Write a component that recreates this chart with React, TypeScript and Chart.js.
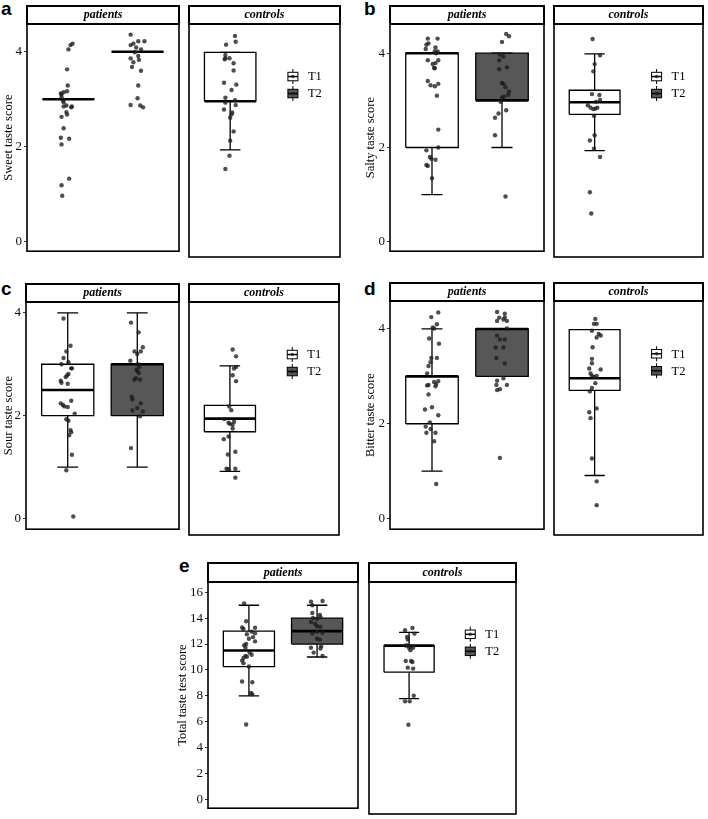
import React, { useEffect, useRef } from "react";
import { Chart, registerables } from "chart.js";

Chart.register(...registerables);

// ---------------- data ----------------
const TIMEPOINTS = ["T1", "T2"];
const GROUPS = ["patients", "controls"];
const PANEL_LETTERS = ["a", "b", "c", "d", "e"];
const Y_TITLES = [
  "Sweet taste score",
  "Salty taste score",
  "Sour taste score",
  "Bitter taste score",
  "Total taste test score",
];
const SCORE_TICKS = [0, 2, 4];
const TOTAL_TICKS = [0, 2, 4, 6, 8, 10, 12, 14, 16];

// boxplot summaries: [lower whisker, Q1, median, Q3, upper whisker]
const sweetBoxPatT1 = [3, 3, 3, 3, 3];
const sweetBoxPatT2 = [4, 4, 4, 4, 4];
const sweetBoxCtlT1 = [2, 3, 3, 4, 4];
const saltyBoxPatT1 = [1, 2, 4, 4, 4];
const saltyBoxPatT2 = [2, 3, 3, 4, 4];
const saltyBoxCtlT1 = [2, 2.75, 3, 3.25, 4];
const sourBoxPatT1 = [1, 2, 2.5, 3, 4];
const sourBoxPatT2 = [1, 2, 3, 3, 4];
const sourBoxCtlT1 = [1, 1.75, 2, 2.25, 3];
const bitterBoxPatT1 = [1, 2, 3, 3, 4];
const bitterBoxPatT2 = [3, 3, 4, 4, 4];
const bitterBoxCtlT1 = [1, 2.75, 3, 4, 4];
const totalBoxPatT1 = [8, 10.25, 11.5, 13, 15];
const totalBoxPatT2 = [11, 12, 13, 14, 15];
const totalBoxCtlT1 = [8, 10, 12, 12, 13];

// jittered observations: [x (T1 = 1, T2 = 2, with jitter), plotted score]
const sweetPatT1 = [[1.06,4.17],[1.03,4.14],[1.0,4.05],[0.98,3.63],[0.99,3.29],[0.98,3.17],[0.93,3.15],[0.90,3.10],[0.89,3.12],[0.90,3.04],[0.92,2.98],[0.93,2.94],[0.97,2.87],[0.93,2.85],[1.05,2.85],[1.04,2.83],[0.97,2.73],[0.98,2.68],[0.90,2.63],[0.93,2.39],[0.89,2.19],[1.01,2.17],[0.90,2.05],[1.01,1.33],[0.90,1.19],[0.91,0.97]];
const sweetPatT2 = [[1.90,4.36],[2.01,4.22],[2.10,4.22],[1.94,4.17],[1.90,4.14],[1.98,4.09],[2.05,4.05],[1.96,3.99],[1.90,3.86],[2.01,3.91],[2.02,3.83],[1.94,3.78],[1.92,3.68],[2.05,3.60],[2.01,3.29],[2.0,3.02],[1.90,2.88],[2.04,2.87],[2.08,2.83]];
const sweetCtlT1 = [[1.07,4.34],[1.08,4.22],[0.94,4.16],[0.93,3.95],[0.92,3.86],[0.93,3.88],[0.99,3.88],[1.05,3.78],[1.05,3.63],[0.91,3.38],[1.09,3.34],[1.02,3.23],[0.93,3.07],[0.93,2.97],[1.07,3.02],[0.91,2.83],[1.08,2.92],[1.03,2.77],[1.0,2.66],[1.02,2.73],[1.05,2.38],[1.0,2.19],[0.99,1.88],[0.93,1.61]];
const saltyPatT1 = [[0.94,4.31],[1.08,4.31],[0.95,4.21],[0.92,4.18],[1.05,4.12],[0.91,4.09],[1.04,4.04],[1.08,4.04],[1.06,4.0],[0.94,3.85],[1.09,3.85],[1.05,3.79],[1.01,3.77],[1.03,3.69],[1.04,3.68],[0.94,3.41],[0.98,3.32],[1.04,3.30],[1.09,3.35],[1.07,3.10],[1.09,2.38],[1.09,2.0],[0.92,1.94],[0.97,1.80],[0.99,1.76],[1.05,1.74],[0.92,1.63],[0.94,1.61],[1.0,1.35]];
const saltyPatT2 = [[2.06,4.41],[2.10,4.36],[2.0,4.24],[1.97,3.97],[2.02,3.93],[1.96,3.85],[2.07,3.70],[1.96,3.66],[2.0,3.37],[2.02,3.35],[2.05,3.28],[2.10,3.19],[2.09,3.12],[2.03,3.08],[2.0,3.06],[1.98,2.97],[2.06,2.79],[1.95,2.72],[1.90,2.63],[1.90,2.26],[2.05,0.96]];
const saltyCtlT1 = [[0.97,4.31],[1.08,3.97],[1.0,3.79],[0.98,3.64],[0.96,3.17],[1.07,3.15],[1.08,3.05],[1.02,3.01],[0.90,2.94],[0.94,2.89],[0.98,2.86],[1.01,2.87],[1.04,2.89],[0.99,2.72],[1.0,2.32],[0.93,2.21],[0.99,2.04],[1.08,1.87],[0.93,1.14],[0.95,0.70]];
const sourPatT1 = [[0.94,3.89],[1.04,3.36],[0.98,3.25],[0.94,3.12],[1.01,3.04],[0.91,3.0],[1.05,2.92],[1.06,2.92],[1.01,2.81],[0.99,2.78],[0.97,2.75],[0.90,2.68],[0.91,2.64],[1.0,2.62],[0.90,2.24],[0.93,2.21],[0.95,2.18],[1.05,2.29],[1.0,2.17],[1.10,2.04],[0.98,1.93],[1.01,1.90],[1.04,1.72],[1.05,1.68],[1.02,1.62],[1.06,1.24],[0.98,0.94],[1.08,0.04]];
const sourPatT2 = [[1.91,3.81],[2.02,3.62],[2.08,3.33],[1.96,3.25],[2.05,3.25],[2.0,3.20],[1.90,3.07],[2.01,3.0],[2.03,2.95],[1.99,2.90],[2.0,2.87],[2.02,2.83],[1.98,2.73],[1.96,2.70],[2.04,2.70],[1.92,2.37],[1.93,2.32],[2.05,2.24],[2.0,2.15],[1.93,2.10],[2.08,2.08],[2.04,1.99],[1.91,1.37]];
const sourCtlT1 = [[1.04,3.31],[1.09,3.18],[1.09,2.98],[1.06,2.95],[1.04,2.82],[1.09,2.71],[0.99,2.23],[1.02,2.16],[0.92,1.99],[0.98,1.92],[1.0,1.90],[1.06,1.94],[1.04,1.88],[1.04,1.81],[0.98,1.66],[0.91,1.61],[0.97,1.32],[1.08,1.37],[0.95,1.05],[0.98,1.04],[1.08,1.05],[1.08,0.88]];
const bitterPatT1 = [[1.09,4.35],[0.99,4.25],[1.07,4.10],[1.01,4.03],[1.03,4.01],[0.96,3.80],[1.10,3.69],[0.99,3.39],[1.07,3.39],[0.98,3.30],[0.95,3.22],[0.93,3.06],[1.03,2.88],[1.09,2.90],[1.06,2.84],[0.93,2.81],[0.95,2.82],[1.05,2.79],[0.95,2.62],[1.0,2.35],[0.90,2.30],[1.09,2.18],[0.97,2.03],[0.91,1.94],[0.98,1.89],[0.92,1.81],[1.05,1.81],[1.03,1.63],[1.06,0.73]];
const bitterPatT2 = [[1.93,4.36],[2.04,4.32],[1.96,4.24],[2.04,4.24],[2.02,4.20],[1.93,4.17],[2.07,4.17],[2.07,4.01],[1.93,3.86],[1.97,3.78],[2.04,3.78],[1.91,3.61],[2.02,3.61],[1.92,3.39],[2.04,3.27],[2.02,2.96],[1.93,2.91],[1.92,2.82],[2.07,2.82],[1.93,2.71],[1.97,2.73],[1.97,1.28]];
const bitterCtlT1 = [[1.01,4.22],[0.99,4.12],[1.03,4.12],[0.96,3.98],[1.06,3.91],[1.09,3.88],[1.03,3.84],[0.97,3.64],[0.96,3.40],[0.96,3.31],[0.92,3.20],[1.09,3.18],[0.94,3.10],[0.96,3.05],[0.99,3.03],[1.03,3.05],[1.01,2.90],[0.96,2.80],[0.93,2.73],[1.03,2.38],[0.92,2.30],[0.94,2.18],[0.96,1.35],[1.03,0.88],[1.03,0.39]];
const totalPatT1 = [[0.93,15.15],[0.96,13.76],[0.90,13.28],[0.92,13.16],[1.09,13.26],[1.04,12.96],[0.97,12.76],[1.09,12.83],[1.06,12.54],[1.0,12.41],[1.09,12.21],[0.96,12.01],[0.93,11.91],[0.95,11.71],[1.01,11.34],[0.95,11.09],[1.04,11.17],[0.92,10.92],[0.97,11.02],[0.90,10.72],[0.92,10.52],[1.0,10.27],[0.90,9.10],[1.05,9.05],[1.03,8.22],[1.05,8.12],[0.96,5.78]];
const totalPatT2 = [[1.91,15.28],[2.08,15.33],[1.93,15.0],[1.93,14.40],[2.04,14.26],[2.05,14.08],[1.94,14.01],[2.0,13.96],[1.91,13.71],[1.97,13.58],[2.0,13.38],[2.05,13.33],[1.93,12.83],[2.0,12.96],[2.08,12.88],[2.04,12.34],[2.0,12.41],[2.06,11.84],[1.91,11.71],[2.05,11.66],[2.08,11.09],[1.95,11.34]];
const totalCtlT1 = [[0.94,13.16],[1.05,13.33],[1.08,12.91],[0.97,12.66],[0.98,12.46],[0.95,12.01],[1.0,11.84],[1.03,11.96],[0.98,12.01],[1.06,11.84],[1.02,11.66],[0.95,10.84],[1.03,10.84],[1.05,10.77],[0.98,10.34],[1.06,10.27],[1.07,8.22],[0.94,7.80],[1.01,7.80],[0.99,6.03]];

// per panel: facet -> list of [timepoint index, box summary, observations]
const PANEL_DATA = [
  [[[0, sweetBoxPatT1, sweetPatT1], [1, sweetBoxPatT2, sweetPatT2]], [[0, sweetBoxCtlT1, sweetCtlT1]]],
  [[[0, saltyBoxPatT1, saltyPatT1], [1, saltyBoxPatT2, saltyPatT2]], [[0, saltyBoxCtlT1, saltyCtlT1]]],
  [[[0, sourBoxPatT1, sourPatT1], [1, sourBoxPatT2, sourPatT2]], [[0, sourBoxCtlT1, sourCtlT1]]],
  [[[0, bitterBoxPatT1, bitterPatT1], [1, bitterBoxPatT2, bitterPatT2]], [[0, bitterBoxCtlT1, bitterCtlT1]]],
  [[[0, totalBoxPatT1, totalPatT1], [1, totalBoxPatT2, totalPatT2]], [[0, totalBoxCtlT1, totalCtlT1]]],
];
const PANEL_TICKS = [SCORE_TICKS, SCORE_TICKS, SCORE_TICKS, SCORE_TICKS, TOTAL_TICKS];

// ---------------- layout & style ----------------
const PANEL_GEOM = [
  { S: 6, T: 24, B: 259, facets: [[27, 181], [187, 342]], axisW: 27, yMin: -0.197, yMax: 4.584, letter: [1, -1] },
  { S: 6, T: 24, B: 259, facets: [[390, 546], [552, 705]], axisW: 28, yMin: -0.2, yMax: 4.62, letter: [364, -1] },
  { S: 284, T: 302, B: 537, facets: [[26, 181], [187, 341]], axisW: 26, yMin: -0.207, yMax: 4.21, letter: [1, 279] },
  { S: 283, T: 301, B: 537, facets: [[390, 546], [552, 705]], axisW: 28, yMin: -0.224, yMax: 4.59, letter: [364, 279] },
  { S: 563, T: 582, B: 816, facets: [[208, 360], [367, 518]], axisW: 34, yMin: -0.695, yMax: 16.8, letter: [179, 556] },
];

const SERIF = "'Liberation Serif', 'Times New Roman', serif";
const BOX_FILLS = ["#ffffff", "#575757"];
const POINT_COLOR = "rgba(28,28,28,0.78)";
const BOX_HALF = 0.375;
const CAP_HALF = 0.15;

function boxDatasets(t: number, stats: number[], pts: number[][]) {
  const c = t + 1;
  const [lo, q1, med, q3, hi] = stats;
  return [
    {
      type: "scatter",
      data: pts.map(([x, y]) => ({ x, y })),
      pointRadius: 2.2,
      pointBackgroundColor: POINT_COLOR,
      pointBorderWidth: 0,
      order: 0,
    },
    {
      type: "line",
      data: [{ x: c - BOX_HALF, y: med }, { x: c + BOX_HALF, y: med }],
      borderColor: "#000",
      borderWidth: 2.6,
      borderCapStyle: "butt",
      pointRadius: 0,
      fill: false,
      order: 1,
    },
    {
      type: "line",
      data: [
        { x: c - BOX_HALF, y: q1 },
        { x: c + BOX_HALF, y: q1 },
        { x: c + BOX_HALF, y: q3 },
        { x: c - BOX_HALF, y: q3 },
        { x: c - BOX_HALF, y: q1 },
      ],
      borderColor: "#000",
      borderWidth: 1.3,
      backgroundColor: BOX_FILLS[t],
      fill: "shape",
      pointRadius: 0,
      order: 2,
    },
    {
      type: "line",
      data: [
        { x: c - CAP_HALF, y: lo }, { x: c + CAP_HALF, y: lo }, { x: c, y: null },
        { x: c, y: lo }, { x: c, y: hi }, { x: c, y: null },
        { x: c - CAP_HALF, y: hi }, { x: c + CAP_HALF, y: hi },
      ],
      borderColor: "#000",
      borderWidth: 1.3,
      spanGaps: false,
      pointRadius: 0,
      fill: false,
      order: 3,
    },
  ];
}

function makeFramePlugin(label: string, stripH: number, showLegend: boolean) {
  return {
    id: "facetFrame",
    afterDraw(chart: any) {
      const { ctx, chartArea: a } = chart;
      const w = a.right - a.left;
      const h = a.bottom - a.top;
      ctx.save();
      // panel border
      ctx.strokeStyle = "#000";
      ctx.lineWidth = 1.6;
      ctx.strokeRect(a.left, a.top, w, h);
      // strip
      ctx.fillStyle = "#fff";
      ctx.fillRect(a.left, a.top - stripH, w, stripH);
      ctx.lineWidth = 2;
      ctx.strokeRect(a.left, a.top - stripH, w, stripH);
      ctx.fillStyle = "#000";
      ctx.font = `italic bold 12px ${SERIF}`;
      ctx.textAlign = "center";
      ctx.textBaseline = "middle";
      ctx.fillText(label, a.left + w / 2, a.top - stripH / 2);
      // legend inside the controls facet
      if (showLegend) {
        const x0 = a.left + 0.655 * w;
        const y0 = a.top + 0.2255 * h;
        TIMEPOINTS.forEach((lab, i) => {
          const cy = y0 + i * 17;
          const bw = 10;
          const bh = 8.5;
          ctx.strokeStyle = "#000";
          ctx.lineWidth = 1;
          ctx.beginPath();
          ctx.moveTo(x0 + bw / 2, cy - 7.5);
          ctx.lineTo(x0 + bw / 2, cy + 7.5);
          ctx.stroke();
          ctx.fillStyle = BOX_FILLS[i];
          ctx.fillRect(x0, cy - bh / 2, bw, bh);
          ctx.strokeRect(x0, cy - bh / 2, bw, bh);
          ctx.lineWidth = 1.5;
          ctx.beginPath();
          ctx.moveTo(x0, cy);
          ctx.lineTo(x0 + bw, cy);
          ctx.stroke();
          ctx.fillStyle = POINT_COLOR;
          ctx.beginPath();
          ctx.arc(x0 + bw / 2, cy, 1.8, 0, Math.PI * 2);
          ctx.fill();
          ctx.fillStyle = "#000";
          ctx.font = `12.5px ${SERIF}`;
          ctx.textAlign = "left";
          ctx.textBaseline = "middle";
          ctx.fillText(lab, x0 + 20, cy + 0.5);
        });
      }
      ctx.restore();
    },
  };
}

function Facet({ panel, facet }: { panel: number; facet: number }) {
  const ref = useRef<HTMLCanvasElement>(null);
  const g = PANEL_GEOM[panel];
  const [L, R] = g.facets[facet];
  const isLeft = facet === 0;
  const axisW = isLeft ? g.axisW : 2;
  const left = L - axisW;
  const top = g.S - 2;
  const width = R - L + axisW + 2;
  const height = g.B - g.S + 4;

  useEffect(() => {
    const boxes = PANEL_DATA[panel][facet] as any[];
    const datasets: any[] = [];
    boxes.forEach(([t, stats, pts]) => datasets.push(...boxDatasets(t, stats, pts)));
    const ticks = PANEL_TICKS[panel];
    const chart = new Chart(ref.current as HTMLCanvasElement, {
      type: "scatter",
      data: { datasets },
      options: {
        animation: false,
        responsive: false,
        maintainAspectRatio: false,
        devicePixelRatio: window.devicePixelRatio || 1,
        layout: {
          padding: { top: g.T - g.S + 2, bottom: 2, right: 2, left: isLeft ? 0 : 2 },
        },
        plugins: { legend: { display: false }, tooltip: { enabled: false } },
        scales: {
          x: { type: "linear", min: 0.4, max: 2.6, display: false },
          y: {
            type: "linear",
            min: g.yMin,
            max: g.yMax,
            display: isLeft,
            afterBuildTicks: (s: any) => {
              s.ticks = ticks.map((v) => ({ value: v }));
            },
            afterFit: (s: any) => {
              s.width = axisW;
            },
            grid: {
              display: true,
              drawOnChartArea: false,
              drawTicks: true,
              tickLength: 3,
              color: "#333",
              lineWidth: 1,
            },
            border: { display: false },
            ticks: { font: { family: SERIF, size: 13 }, color: "#111", padding: 2 },
            title: {
              display: true,
              text: Y_TITLES[panel],
              font: { family: SERIF, size: 12.5 },
              color: "#000",
              padding: { top: 1.5, bottom: 0 },
            },
          },
        },
      } as any,
      plugins: [makeFramePlugin(GROUPS[facet], g.T - g.S, facet === 1)],
    } as any);
    return () => chart.destroy();
  }, [panel, facet]);

  return (
    <div style={{ position: "absolute", left, top, width, height }}>
      <canvas ref={ref} width={width} height={height} style={{ width, height, display: "block" }} />
    </div>
  );
}

export default function App() {
  return (
    <div
      style={{
        position: "absolute",
        left: 0,
        top: 0,
        width: 708,
        height: 819,
        background: "#fff",
        overflow: "hidden",
      }}
    >
      {PANEL_GEOM.map((g, p) => (
        <React.Fragment key={p}>
          <div
            style={{
              position: "absolute",
              left: g.letter[0],
              top: g.letter[1],
              font: "bold 19px 'Liberation Sans', Arial, sans-serif",
              lineHeight: "19px",
              color: "#000",
            }}
          >
            {PANEL_LETTERS[p]}
          </div>
          <Facet panel={p} facet={0} />
          <Facet panel={p} facet={1} />
        </React.Fragment>
      ))}
    </div>
  );
}
